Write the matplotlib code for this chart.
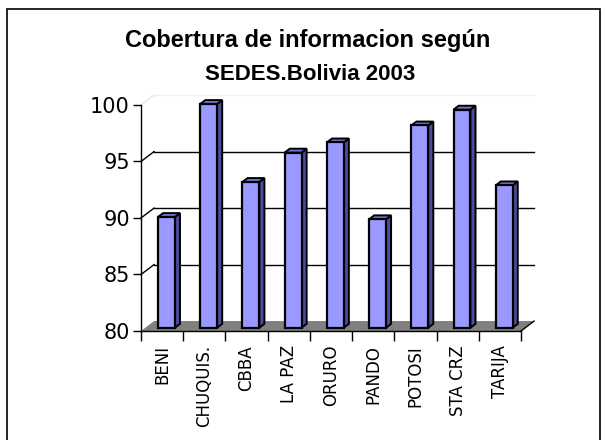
import matplotlib
matplotlib.use("Agg")
import matplotlib.pyplot as plt
from matplotlib.patches import Polygon, Rectangle

# data
categories = ["BENI", "CHUQUIS.", "CBBA", "LA PAZ", "ORURO",
              "PANDO", "POTOSI", "STA CRZ", "TARIJA"]
coverage = [89.8, 99.8, 92.9, 95.5, 96.4, 89.6, 97.9, 99.3, 92.6]
yticks = [80, 85, 90, 95, 100]
title_lines = ["Cobertura de informacion según", "SEDES.Bolivia 2003"]

# 3d look (in data units of the front plane)
DX, DY = 0.31, 0.88      # depth of the back wall
F0, F1 = 0.33, 0.72      # bar front / back depth fraction
HALF = 0.2               # half width of a bar front face

W, H = 606, 440
fig = plt.figure(figsize=(W / 100, H / 100), dpi=100)
fig.patch.set_facecolor("white")

# outer frame of the chart area
fig.add_artist(Rectangle((7 / W, -0.05), 593 / W, 1.05 - 9 / H,
                         transform=fig.transFigure, fill=False,
                         edgecolor="black", linewidth=1.2))

ax = fig.add_axes([141 / W, (H - 331) / H, 380 / W, 226 / H])
ax.set_xlim(0, len(categories))
ax.set_ylim(yticks[0], yticks[-1])
for s in ax.spines.values():
    s.set_visible(False)
ax.patch.set_visible(False)

n = len(categories)
ymin = yticks[0]

# floor
ax.add_patch(Polygon([(0, ymin), (n, ymin), (n + DX, ymin + DY), (DX, ymin + DY)],
                     closed=True, facecolor="#808080", edgecolor="none",
                     clip_on=False, zorder=1))
ax.plot([n, n + DX], [ymin, ymin + DY], color="black", lw=1, clip_on=False, zorder=2)

# back wall gridlines and slanted left-wall lines
for v in yticks[1:-1]:
    ax.plot([DX, n + DX], [v + DY, v + DY], color="black", lw=1, clip_on=False, zorder=1)
    ax.plot([0, DX], [v, v + DY], color="black", lw=1, clip_on=False, zorder=1)
ax.plot([0, DX], [yticks[-1], yticks[-1] + DY], color="#e6e6e6", lw=1, clip_on=False, zorder=1)
ax.plot([DX, n + DX], [yticks[-1] + DY, yticks[-1] + DY], color="#f2f2f2", lw=1,
        clip_on=False, zorder=1)

# bars
for i, v in enumerate(coverage):
    c = i + 0.5
    xl = c - HALF + F0 * DX
    xr = c + HALF + F0 * DX
    b0 = ymin + F0 * DY
    t0 = v + F0 * DY
    ddx = (F1 - F0) * DX
    ddy = (F1 - F0) * DY
    side = Polygon([(xr, b0), (xr + ddx, b0 + ddy), (xr + ddx, t0 + ddy), (xr, t0)],
                   closed=True, facecolor="#4c4c9e", edgecolor="black", lw=1.4,
                   clip_on=False, zorder=3)
    top = Polygon([(xl, t0), (xr, t0), (xr + ddx, t0 + ddy), (xl + ddx, t0 + ddy)],
                  closed=True, facecolor="#7373d9", edgecolor="black", lw=1.4,
                  clip_on=False, zorder=3)
    front = Rectangle((xl, b0), xr - xl, t0 - b0, facecolor="#9999ff",
                      edgecolor="black", lw=1.6, clip_on=False, zorder=4)
    ax.add_patch(side)
    ax.add_patch(top)
    ax.add_patch(front)

# front axes
ax.plot([0, 0], [ymin, yticks[-1]], color="black", lw=1, clip_on=False, zorder=5)
ax.plot([0, n], [ymin, ymin], color="black", lw=1, clip_on=False, zorder=5)

ax.set_yticks(yticks)
ax.set_yticklabels([str(t) for t in yticks], fontsize=15, family="DejaVu Sans")
ax.tick_params(axis="y", direction="out", length=6, width=1, pad=2)

ax.set_xticks(range(n + 1), minor=True)
ax.set_xticks([i + 0.5 for i in range(n)])
ax.set_xticklabels(categories, rotation=90, fontsize=12, family="DejaVu Sans",
                   va="top", ha="center")
ax.tick_params(axis="x", which="major", length=0, pad=10)
ax.tick_params(axis="x", which="minor", direction="out", length=7, width=1)

fig.text(308 / W, 1 - 40 / H, title_lines[0], ha="center", va="center",
         fontsize=17, fontweight="bold", family="Liberation Sans")
fig.text(310 / W, 1 - 75 / H, title_lines[1], ha="center", va="center",
         fontsize=16, fontweight="bold", family="Liberation Sans")

fig.savefig("out.png", dpi=100)
